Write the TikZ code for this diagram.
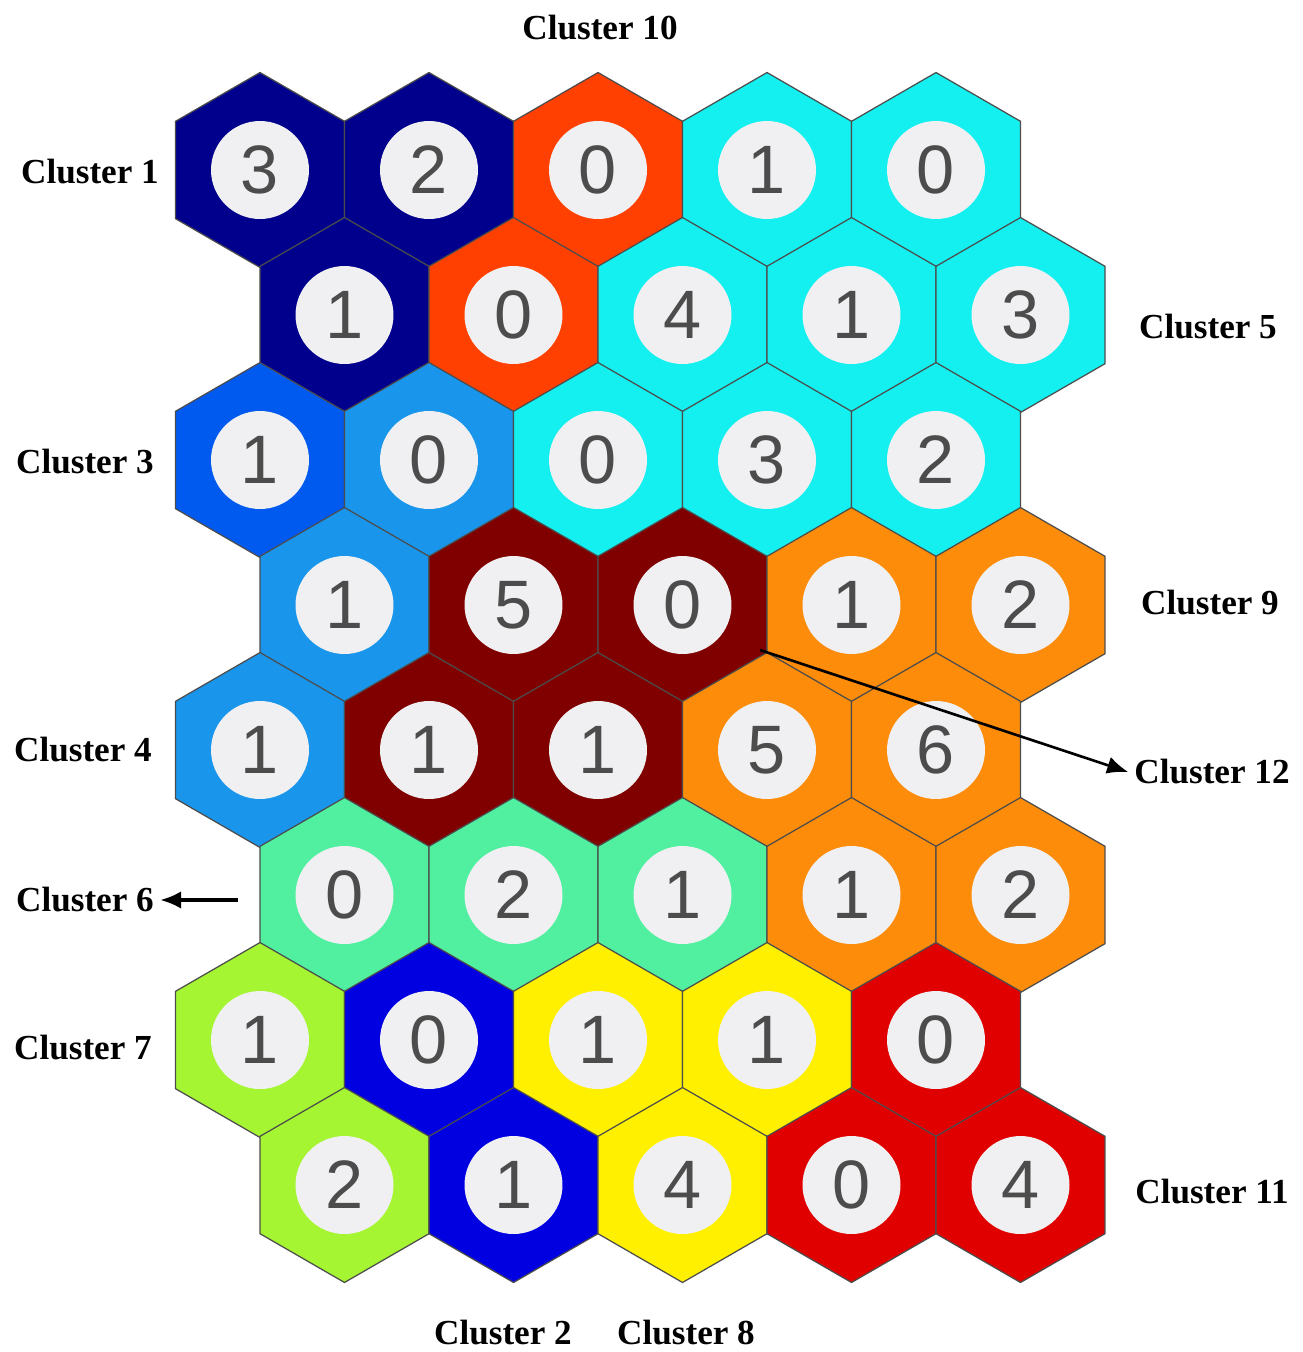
\documentclass[tikz,border=0pt]{standalone}
\usepackage{fontspec}
\setmainfont{Liberation Serif}
\newfontfamily\digitfont{Liberation Sans}
\usetikzlibrary{shapes.geometric,arrows.meta}

\definecolor{cNavy}{RGB}{0,0,140}
\definecolor{cVerm}{RGB}{255,64,0}
\definecolor{cCyan}{RGB}{20,240,240}
\definecolor{cRoyal}{RGB}{0,90,240}
\definecolor{cSky}{RGB}{25,150,235}
\definecolor{cMaroon}{RGB}{128,0,0}
\definecolor{cOrange}{RGB}{252,140,10}
\definecolor{cAqua}{RGB}{80,240,160}
\definecolor{cLime}{RGB}{165,245,50}
\definecolor{cBlue}{RGB}{0,0,225}
\definecolor{cYellow}{RGB}{255,240,0}
\definecolor{cRed}{RGB}{225,0,0}
\definecolor{cDisc}{RGB}{240,240,242}

\tikzset{
  cell/.style={regular polygon, regular polygon sides=6, regular polygon rotate=30,
    minimum size=3.9cm, inner sep=0pt, draw=black!70, line width=0.7pt},
  disc/.style={circle, fill=cDisc, minimum size=1.96cm, inner sep=0pt,
    font=\digitfont\fontsize{39}{44}\selectfont, text=black!70},
  clabel/.style={font=\bfseries\fontsize{20}{24}\selectfont},
  pointer/.style={-{Latex[length=12pt,width=10pt]}, line width=1.5pt}
}

\begin{document}
\begin{tikzpicture}[x=0.02cm, y=-0.02cm]
  \useasboundingbox (0,0) rectangle (1302,1352);

  % map cells, row by row (colour/hits)
  \foreach \row [count=\r from 0] in {
      {cNavy/3,cNavy/2,cVerm/0,cCyan/1,cCyan/0},
      {cNavy/1,cVerm/0,cCyan/4,cCyan/1,cCyan/3},
      {cRoyal/1,cSky/0,cCyan/0,cCyan/3,cCyan/2},
      {cSky/1,cMaroon/5,cMaroon/0,cOrange/1,cOrange/2},
      {cSky/1,cMaroon/1,cMaroon/1,cOrange/5,cOrange/6},
      {cAqua/0,cAqua/2,cAqua/1,cOrange/1,cOrange/2},
      {cLime/1,cBlue/0,cYellow/1,cYellow/1,cRed/0},
      {cLime/2,cBlue/1,cYellow/4,cRed/0,cRed/4}}
    \foreach \col/\num [count=\c from 0] in \row {
      \pgfmathsetmacro\xx{260+169*\c+84.5*mod(\r,2)}
      \pgfmathsetmacro\yy{170+145*\r}
      \node[cell, fill=\col] (h\r\c) at (\xx,\yy) {};
      \node[disc] (n\r\c) at (h\r\c) {\num};
    }

  % cluster names
  \node[clabel] (c10) at (600,28) {Cluster 10};
  \node[clabel] (c1) at (90,172) {Cluster 1};
  \node[clabel] (c5) at (1208,327) {Cluster 5};
  \node[clabel] (c3) at (85,462) {Cluster 3};
  \node[clabel] (c9) at (1210,603) {Cluster 9};
  \node[clabel] (c4) at (83,750) {Cluster 4};
  \node[clabel] (c12) at (1212,772) {Cluster 12};
  \node[clabel] (c6) at (85,900) {Cluster 6};
  \node[clabel] (c7) at (83,1048) {Cluster 7};
  \node[clabel] (c11) at (1212,1192) {Cluster 11};
  \node[clabel] (c2) at (503,1333) {Cluster 2};
  \node[clabel] (c8) at (686,1333) {Cluster 8};

  \coordinate (a12) at (760,650);
  \coordinate (a6) at (238,900);
  \draw[pointer] (a12) -- (c12.west);
  \draw[pointer, line width=2.2pt] (a6) -- (c6.east);
\end{tikzpicture}
\end{document}
